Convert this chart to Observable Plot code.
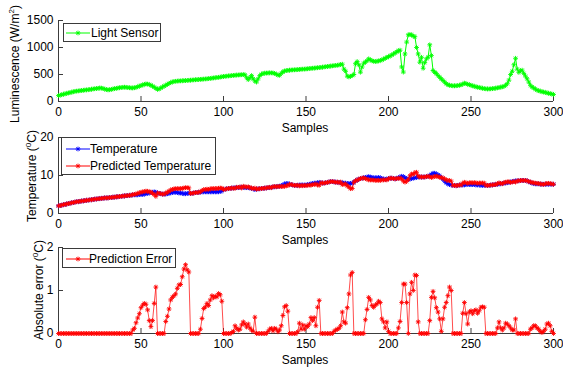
<!DOCTYPE html>
<html><head><meta charset="utf-8">
<script src="https://cdn.jsdelivr.net/npm/d3@7"></script>
<script src="https://cdn.jsdelivr.net/npm/@observablehq/plot@0.6"></script>
<style>
body{margin:0;background:#fff;}
#fig{position:relative;width:563px;height:368px;overflow:hidden;background:#fff;font-family:"Liberation Sans",Arial,Helvetica,sans-serif;font-size:12px;color:#000;}
#fig svg{position:absolute;left:0;top:0;}
.ylab{position:absolute;transform:translate(-50%,-50%) rotate(-90deg);white-space:nowrap;line-height:14px;}
.xlab{position:absolute;transform:translate(-50%,-50%);white-space:nowrap;line-height:14px;}
.legend{position:absolute;border:1px solid #3a3a3a;background:#fff;box-sizing:border-box;}
.legend svg{position:absolute !important;}
.legend span{position:absolute;white-space:nowrap;line-height:14px;}
sup{font-size:8px;vertical-align:0;position:relative;top:-5px;}
</style>
</head><body>
<div id="fig"></div>
<script>
// ---- data ----
const sampleIndex = d3.range(0, 301);
const xTicks = [0, 50, 100, 150, 200, 250, 300];
const lightTicks = [0, 500, 1000, 1500];
const tempTicks = [0, 10, 20];
const errTicks = [0, 1, 2];

const lightSensor = [
110,118,125,135,142,150,158,165,172,180,
188,192,196,200,204,208,212,215,218,222,
228,232,236,240,244,250,248,240,230,222,
215,218,225,232,238,244,250,255,258,262,
265,262,258,255,252,250,255,262,272,285,
296,305,318,325,322,315,300,285,265,245,
225,232,250,268,285,300,318,335,350,362,
370,374,378,380,382,384,386,388,390,392,
395,398,400,403,405,407,410,412,415,418,
420,424,428,432,436,440,444,448,452,458,
463,466,470,473,476,480,483,486,489,491,
494,496,498,495,440,405,440,480,420,380,
360,420,480,505,518,524,526,528,530,530,
528,520,505,490,485,520,550,565,572,576,
580,583,585,587,589,591,594,597,599,600,
603,606,610,613,616,619,622,625,628,632,
636,640,644,648,652,656,660,664,668,672,
676,685,690,600,560,470,455,465,480,500,
700,740,680,543,640,709,730,755,790,770,
755,745,740,745,750,760,770,785,800,818,
830,845,860,880,900,920,940,950,640,545,
880,1100,1235,1240,1235,1210,1200,1000,880,728,
818,616,720,790,820,1050,850,574,540,520,
480,450,420,390,360,330,310,300,295,290,
290,292,296,300,310,320,340,330,320,310,
300,290,280,272,265,258,252,245,238,235,
232,233,235,238,242,247,252,258,265,272,
280,300,330,395,500,560,680,800,600,540,
570,580,520,470,420,360,300,270,250,230,
210,200,190,182,175,168,160,152,145,138,130];

const temperature = [
2.0,2.1,2.2,2.3,2.4,2.5,2.6,2.7,2.8,2.9,
3.0,3.1,3.1,3.2,3.3,3.3,3.4,3.5,3.5,3.6,
3.6,3.7,3.8,3.8,3.9,3.9,4.0,4.0,4.1,4.1,
4.1,4.2,4.2,4.3,4.3,4.4,4.4,4.5,4.5,4.6,
4.6,4.7,4.7,4.8,4.8,4.9,4.9,4.9,4.9,5.0,
5.0,5.0,5.1,5.2,5.3,5.4,5.5,5.6,5.7,5.6,
5.4,5.3,5.2,5.1,5.1,5.1,5.2,5.3,5.4,5.5,
5.6,5.6,5.5,5.4,5.4,5.3,5.2,5.2,5.3,5.3,
5.3,5.3,5.4,5.5,5.5,5.6,5.6,5.7,5.7,5.7,
5.7,5.7,5.7,5.7,5.7,5.7,5.7,5.7,5.8,5.9,
6.3,6.4,6.5,6.6,6.6,6.7,6.7,6.8,6.8,6.8,
6.9,6.9,6.9,6.8,6.8,6.8,6.7,6.6,6.5,6.3,
6.4,6.5,6.5,6.6,6.6,6.7,6.7,6.8,6.8,6.9,
7.0,7.0,7.1,7.1,7.2,7.3,7.5,7.8,7.9,7.9,
7.7,7.6,7.5,7.4,7.4,7.4,7.5,7.5,7.5,7.5,
7.5,7.6,7.7,7.8,7.9,8.0,8.0,8.1,8.2,8.1,
8.0,8.0,8.1,8.2,8.3,8.4,8.4,8.3,8.3,8.2,
8.2,8.1,8.1,8.0,8.0,7.9,7.9,7.9,8.0,8.2,
8.6,8.8,9.0,9.2,9.3,9.4,9.5,9.6,9.7,9.6,
9.5,9.4,9.4,9.4,9.5,9.4,9.2,9.1,9.0,9.1,
9.2,9.3,9.3,9.2,9.1,9.2,9.4,9.6,9.8,9.7,
9.4,9.2,9.0,9.0,9.2,9.3,9.4,9.5,9.6,9.6,
9.6,9.6,9.6,9.7,9.8,10.0,10.3,10.6,10.6,10.4,
10.2,9.9,9.5,9.0,8.5,8.1,7.8,7.6,7.5,7.4,
7.4,7.3,7.4,7.5,7.5,7.5,7.5,7.6,7.7,7.6,
7.6,7.6,7.6,7.5,7.5,7.5,7.4,7.4,7.4,7.4,
7.4,7.4,7.5,7.5,7.6,7.6,7.7,7.8,7.8,7.9,
8.0,8.0,8.1,8.2,8.3,8.4,8.5,8.6,8.6,8.6,
8.7,8.7,8.7,8.7,8.6,8.4,8.2,8.0,7.9,7.8,
7.8,7.8,7.7,7.7,7.7,7.7,7.7,7.7,7.7,7.7,7.7];

const predictedTemperature = [
2.0,2.1,2.2,2.3,2.4,2.5,2.6,2.7,2.8,2.9,
3.0,3.1,3.1,3.2,3.3,3.3,3.4,3.5,3.5,3.6,
3.6,3.7,3.8,3.8,3.9,3.9,4.0,4.0,4.1,4.1,
4.1,4.2,4.2,4.3,4.3,4.4,4.4,4.5,4.5,4.6,
4.6,4.7,4.7,4.8,4.8,4.98,5.02,5.15,5.26,5.46,
5.6,5.66,5.8,5.88,5.85,5.7,5.66,5.3,5.0,4.52,
5.4,5.3,5.2,5.1,5.1,5.38,5.6,5.87,6.18,6.34,
6.48,6.52,6.55,6.53,6.54,6.62,6.7,6.8,6.78,6.73,
5.3,5.3,5.4,5.5,5.5,5.6,5.7,6.05,6.28,6.32,
6.4,6.35,6.48,6.58,6.53,6.57,6.55,6.63,6.7,6.65,
6.3,6.4,6.5,6.6,6.6,6.72,6.65,6.62,6.92,6.88,
7.0,6.7,7.17,7.02,6.95,7.02,6.83,6.68,6.55,6.68,
6.4,6.5,6.5,6.6,6.6,6.7,6.7,6.85,6.9,6.78,
7.06,7.12,7.0,7.14,7.12,7.12,7.08,7.18,7.25,7.38,
7.7,7.6,7.5,7.4,7.4,7.44,7.26,7.4,7.3,7.4,
7.32,7.44,7.48,7.43,7.6,7.63,7.82,7.49,7.43,8.1,
8.0,8.0,8.1,8.2,8.3,8.4,8.4,8.35,8.22,8.3,
8.08,8.28,7.6,7.73,7.76,7.3,6.98,6.54,6.58,8.2,
8.6,8.8,9.0,9.2,9.3,9.4,9.18,9.04,8.86,8.82,
8.85,8.79,8.74,8.71,8.75,8.68,8.86,8.83,8.87,8.83,
9.15,9.3,9.3,9.2,9.1,9.2,9.27,9.32,9.08,8.55,
8.25,8.48,9.0,9.92,10.39,10.3,10.76,10.85,9.87,9.6,
9.6,9.6,9.6,9.7,9.8,9.7,9.46,9.62,9.77,9.8,
9.7,9.56,9.45,9.34,9.11,8.82,8.68,8.68,8.5,7.4,
7.4,7.3,7.4,7.5,7.5,7.97,8.22,8.06,7.92,8.1,
8.13,8.06,8.13,8.05,7.97,8.03,8.01,8.02,8.01,7.4,
7.4,7.4,7.5,7.5,7.6,7.6,7.83,8.07,7.93,7.82,
8.13,8.24,8.32,8.38,8.17,8.32,8.42,8.26,8.6,8.6,
8.7,8.7,8.7,8.7,8.6,8.4,8.3,8.13,8.08,7.98,
7.93,7.9,7.75,7.72,7.65,7.8,7.92,7.94,7.88,7.75,7.7];

const predictionError = [
0,0,0,0,0,0,0,0,0,0,
0,0,0,0,0,0,0,0,0,0,
0,0,0,0,0,0,0,0,0,0,
0,0,0,0,0,0,0,0,0,0,
0,0,0,0,0,0.08,0.12,0.25,0.36,0.46,
0.6,0.66,0.7,0.68,0.55,0.3,0.16,0.3,0.7,1.08,
0,0,0,0,0,0.28,0.4,0.57,0.78,0.84,
0.88,0.92,1.05,1.13,1.14,1.32,1.5,1.6,1.48,1.43,
0,0,0,0,0,0,0.1,0.35,0.58,0.62,
0.7,0.65,0.78,0.88,0.83,0.87,0.85,0.93,0.9,0.75,
0,0,0,0,0,0.02,0.05,0.18,0.12,0.08,
0.1,0.2,0.27,0.22,0.15,0.22,0.13,0.08,0.05,0.38,
0,0,0,0,0,0,0,0.05,0.1,0.12,
0.06,0.12,0.1,0.04,0.08,0.18,0.42,0.62,0.65,0.52,
0,0,0,0,0,0.04,0.24,0.1,0.2,0.1,
0.18,0.16,0.22,0.37,0.3,0.37,0.18,0.61,0.77,0,
0,0,0,0,0,0,0,0.05,0.08,0.1,
0.12,0.18,0.5,0.27,0.24,0.6,0.92,1.36,1.42,0,
0,0,0,0,0,0,0.32,0.56,0.84,0.78,
0.65,0.61,0.66,0.69,0.75,0.72,0.34,0.27,0.13,0.27,
0.05,0,0,0,0,0,0.13,0.28,0.72,1.15,
1.15,0.72,0,0.92,1.19,1.0,1.36,1.35,0.27,0,
0,0,0,0,0,0.3,0.84,0.98,0.83,0.6,
0.5,0.34,0.05,0.34,0.61,0.72,0.88,1.08,1.0,0,
0,0,0,0,0,0.47,0.72,0.46,0.22,0.5,
0.53,0.46,0.53,0.55,0.47,0.53,0.61,0.62,0.61,0,
0,0,0,0,0,0,0.13,0.27,0.13,0.08,
0.13,0.24,0.22,0.18,0.13,0.08,0.08,0.34,0,0,
0,0,0,0,0,0,0.1,0.13,0.18,0.18,
0.13,0.1,0.05,0.02,0.05,0.1,0.22,0.24,0.18,0.05,0];

// ---- styling ----
const W = 563, H = 368, ML = 58, MR = 10;
const innerW = W - ML - MR;
const axisColor = "#3c3c3c";
const green = "#00ff00", blue = "#0000ff", red = "#ff0000";
const plainFormat = (d) => String(d);

// MATLAB-style '*' marker (plus + cross)
const starSymbol = {
  draw(ctx, size) {
    const r = Math.sqrt(size / Math.PI), d = r * Math.SQRT1_2;
    ctx.moveTo(-r, 0); ctx.lineTo(r, 0);
    ctx.moveTo(0, -r); ctx.lineTo(0, r);
    ctx.moveTo(-d, -d); ctx.lineTo(d, d);
    ctx.moveTo(-d, d); ctx.lineTo(d, -d);
  }
};

const fig = document.getElementById("fig");

function panel({top, bottom, yDomain, yTicks, series}) {
  const innerH = bottom - top;
  const marks = [
    Plot.ruleX([0], {stroke: axisColor, strokeWidth: 1}),
    Plot.ruleY([yDomain[0]], {stroke: axisColor, strokeWidth: 1}),
    Plot.ruleX(xTicks, {stroke: axisColor, insetTop: innerH - 5}),
    Plot.ruleY(yTicks, {stroke: axisColor, insetRight: innerW - 5}),
    Plot.axisX(xTicks, {tickSize: 0, tickPadding: 6, label: null, tickFormat: plainFormat}),
    Plot.axisY(yTicks, {tickSize: 0, tickPadding: 5, label: null, tickFormat: plainFormat})
  ];
  for (const s of series) {
    const rows = sampleIndex.map((i) => ({s: i, v: s.values[i]}));
    marks.push(Plot.line(rows, {x: "s", y: "v", stroke: s.color, strokeWidth: s.lineWidth}));
    marks.push(Plot.dot(rows, {x: "s", y: "v", symbol: starSymbol, r: 2.4, fill: "none", stroke: s.color, strokeWidth: 0.9}));
  }
  const svg = Plot.plot({
    width: W, height: H,
    marginLeft: ML, marginRight: MR, marginTop: top, marginBottom: H - bottom,
    style: {background: "transparent", overflow: "visible", fontFamily: "'Liberation Sans', Arial, Helvetica, sans-serif", fontSize: "12px", color: "#000"},
    x: {domain: [0, 300]},
    y: {domain: yDomain},
    marks
  });
  fig.appendChild(svg);
}

panel({top: 20, bottom: 101, yDomain: [0, 1500], yTicks: lightTicks,
  series: [{values: lightSensor, color: green, lineWidth: 1}]});
panel({top: 137, bottom: 213, yDomain: [0, 20], yTicks: tempTicks,
  series: [{values: temperature, color: blue, lineWidth: 1}, {values: predictedTemperature, color: red, lineWidth: 1}]});
panel({top: 247, bottom: 333, yDomain: [0, 2], yTicks: errTicks,
  series: [{values: predictionError, color: red, lineWidth: 0.7}]});

// axis titles
function addLabel(cls, html, x, y) {
  const d = document.createElement("div");
  d.className = cls; d.innerHTML = html;
  d.style.left = x + "px"; d.style.top = y + "px";
  fig.appendChild(d);
}
addLabel("ylab", "Luminescence (W/m<sup>2</sup>)", 16, 64);
addLabel("ylab", "Temperature (<sup>0</sup>C)", 33, 176);
addLabel("ylab", "Absolute error (<sup>0</sup>C)", 40, 290);
addLabel("xlab", "Samples", 305, 128);
addLabel("xlab", "Samples", 305, 240);
addLabel("xlab", "Samples", 305, 360);

// legends
function legend(left, top, w, h, items) {
  const box = document.createElement("div");
  box.className = "legend";
  Object.assign(box.style, {left: left + "px", top: top + "px", width: w + "px", height: h + "px"});
  for (const it of items) {
    const ns = "http://www.w3.org/2000/svg";
    const s = document.createElementNS(ns, "svg");
    s.setAttribute("width", 24); s.setAttribute("height", 10);
    s.style.left = it.lx + "px"; s.style.top = (it.cy - 5) + "px";
    const ln = document.createElementNS(ns, "line");
    ln.setAttribute("x1", 0); ln.setAttribute("x2", 24); ln.setAttribute("y1", 5); ln.setAttribute("y2", 5);
    ln.setAttribute("stroke", it.color); ln.setAttribute("stroke-width", 1);
    s.appendChild(ln);
    const p = document.createElementNS(ns, "path");
    const ctx = d3.path(); starSymbol.draw(ctx, 2.4 * 2.4 * Math.PI);
    p.setAttribute("d", ctx.toString()); p.setAttribute("transform", "translate(12,5)");
    p.setAttribute("stroke", it.color); p.setAttribute("fill", "none"); p.setAttribute("stroke-width", 0.9);
    s.appendChild(p);
    box.appendChild(s);
    const t = document.createElement("span");
    t.textContent = it.label;
    t.style.left = it.tx + "px"; t.style.top = (it.cy - 7) + "px";
    box.appendChild(t);
  }
  fig.appendChild(box);
}
legend(63, 23, 98, 19, [{label: "Light Sensor", color: green, lx: 2, tx: 27, cy: 9}]);
legend(61, 137, 155, 38, [
  {label: "Temperature", color: blue, lx: 4, tx: 28, cy: 11},
  {label: "Predicted Temperature", color: red, lx: 4, tx: 28, cy: 28}
]);
legend(62, 248, 114, 20, [{label: "Prediction Error", color: red, lx: 3, tx: 26, cy: 10}]);
</script>
</body></html>
